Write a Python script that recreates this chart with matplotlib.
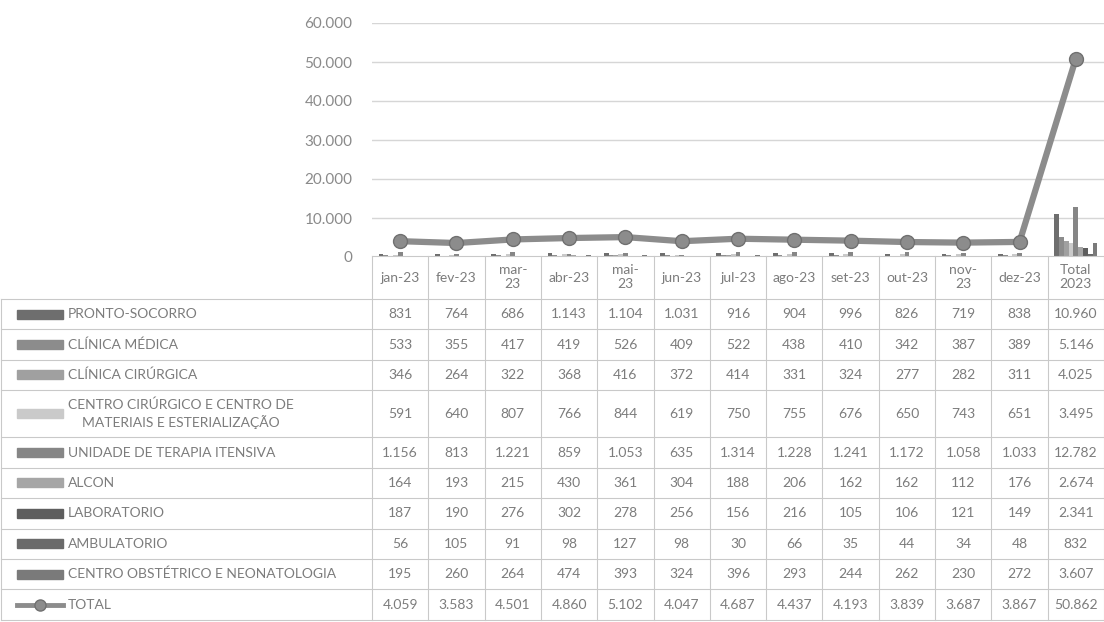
import numpy as np
import matplotlib
matplotlib.use("Agg")
import matplotlib.pyplot as plt
from matplotlib.ticker import FuncFormatter

plt.rcParams['font.family'] = ['Lato', 'DejaVu Sans']

# dados
meses = ["jan-23", "fev-23", "mar-\n23", "abr-23", "mai-\n23", "jun-23", "jul-23",
         "ago-23", "set-23", "out-23", "nov-\n23", "dez-23", "Total\n2023"]
setores = ["PRONTO-SOCORRO", "CLÍNICA MÉDICA", "CLÍNICA CIRÚRGICA",
           "CENTRO CIRÚRGICO E CENTRO DE\nMATERIAIS E ESTERIALIZAÇÃO",
           "UNIDADE DE TERAPIA ITENSIVA", "ALCON", "LABORATORIO", "AMBULATORIO",
           "CENTRO OBSTÉTRICO E NEONATOLOGIA"]
pronto_socorro = [831, 764, 686, 1143, 1104, 1031, 916, 904, 996, 826, 719, 838, 10960]
clinica_medica = [533, 355, 417, 419, 526, 409, 522, 438, 410, 342, 387, 389, 5146]
clinica_cirurgica = [346, 264, 322, 368, 416, 372, 414, 331, 324, 277, 282, 311, 4025]
centro_cirurgico = [591, 640, 807, 766, 844, 619, 750, 755, 676, 650, 743, 651, 3495]
uti = [1156, 813, 1221, 859, 1053, 635, 1314, 1228, 1241, 1172, 1058, 1033, 12782]
alcon = [164, 193, 215, 430, 361, 304, 188, 206, 162, 162, 112, 176, 2674]
laboratorio = [187, 190, 276, 302, 278, 256, 156, 216, 105, 106, 121, 149, 2341]
ambulatorio = [56, 105, 91, 98, 127, 98, 30, 66, 35, 44, 34, 48, 832]
centro_obstetrico = [195, 260, 264, 474, 393, 324, 396, 293, 244, 262, 230, 272, 3607]
total = [4059, 3583, 4501, 4860, 5102, 4047, 4687, 4437, 4193, 3839, 3687, 3867, 50862]

series = [pronto_socorro, clinica_medica, clinica_cirurgica, centro_cirurgico, uti,
          alcon, laboratorio, ambulatorio, centro_obstetrico]
cores = ['#6e6e6e', '#8c8c8c', '#a0a0a0', '#cacaca', '#868686',
         '#a6a6a6', '#5e5e5e', '#6a6a6a', '#7a7a7a']
cor_linha = '#8c8c8c'

def fmt(v):
    return f"{v:,.0f}".replace(",", ".")

W, H = 1104, 622
fig = plt.figure(figsize=(W / 100, H / 100), dpi=100)
fig.patch.set_facecolor('white')

# area do grafico
x0, x1 = 372, 1104
y_top, y_zero = 23, 257
ax = fig.add_axes([x0 / W, 1 - y_zero / H, (x1 - x0) / W, (y_zero - y_top) / H])
ax.set_xlim(-0.5, len(meses) - 0.5)
ax.set_ylim(0, 60000)
ax.set_yticks(range(0, 60001, 10000))
ax.yaxis.set_major_formatter(FuncFormatter(lambda v, p: fmt(v)))
ax.tick_params(axis='y', length=0, pad=14, labelsize=11, labelcolor='#8a8a8a')
ax.set_xticks([])
ax.yaxis.grid(True, color='#d6d6d6', lw=1)
ax.set_axisbelow(True)
for s in ax.spines.values():
    s.set_visible(False)

x = np.arange(len(meses))
bw = 0.085
for i, (vals, c) in enumerate(zip(series, cores)):
    ax.bar(x + (i - 4) * bw, vals, width=bw, color=c, zorder=2)
ax.plot(x, total, color=cor_linha, lw=4.5, marker='o', ms=10,
        mfc=cor_linha, mec='#707070', mew=1, zorder=3, clip_on=False)

# tabela de dados
tb = fig.add_axes([0, 0, 1, 1])
tb.set_xlim(0, W)
tb.set_ylim(H, 0)
tb.axis('off')
tb.patch.set_visible(False)

cw = (x1 - x0) / len(meses)
head_top, head_bot = 256, 299
rh = 30.4
alturas = [rh, rh, rh, rh * 1.55, rh, rh, rh, rh, rh, rh]
bordas = [head_bot]
for a in alturas:
    bordas.append(bordas[-1] + a)
lc = '#c9c9c9'
txt = '#7c7c7c'

# cabecalho
for j, m in enumerate(meses):
    tb.text(x0 + (j + 0.5) * cw, (head_top + head_bot) / 2, m, ha='center', va='center',
            fontsize=10, color=txt, linespacing=1.2)
for j in range(len(meses) + 1):
    tb.plot([x0 + j * cw] * 2, [head_top, bordas[-1]], color=lc, lw=0.8)
tb.plot([x0, x1], [head_top, head_top], color=lc, lw=0.8)
tb.plot([1, 1], [head_bot, bordas[-1]], color=lc, lw=0.8)
for b in bordas:
    tb.plot([1, x1], [b, b], color=lc, lw=0.8)

linhas = list(zip(setores, series, cores)) + [("TOTAL", total, None)]
for r, (nome, vals, c) in enumerate(linhas):
    yc = (bordas[r] + bordas[r + 1]) / 2
    if c is not None:
        tb.add_patch(plt.Rectangle((17, yc - 4.5), 46, 9, color=c))
    else:
        tb.plot([17, 63], [yc, yc], color=cor_linha, lw=3.5)
        tb.plot([40], [yc], marker='o', ms=8, color=cor_linha, mec='#707070')
    tb.text(68, yc, nome, ha='left', va='center', fontsize=10, color=txt,
            multialignment='center', linespacing=1.4)
    for j, v in enumerate(vals):
        tb.text(x0 + (j + 0.5) * cw, yc, fmt(v), ha='center', va='center',
                fontsize=10, color=txt)

fig.savefig("out.png", dpi=100, facecolor='white')
